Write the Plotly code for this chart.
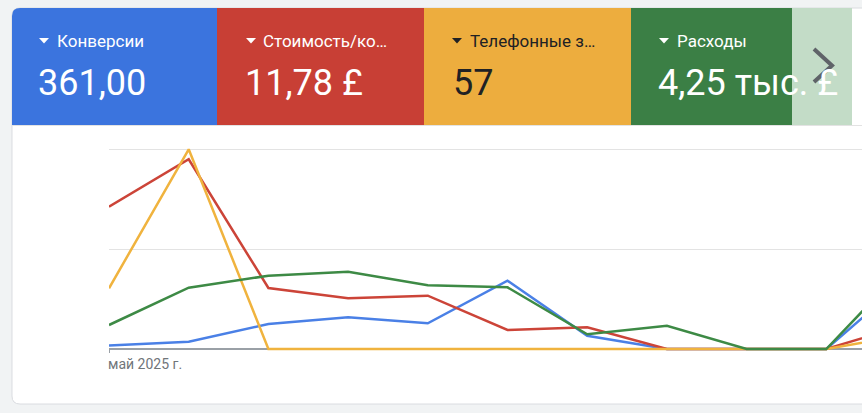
import plotly.graph_objects as go

# ---- data (normalised per-metric values, one gridline = 1 unit) ----
dates = ["2025-05-01", "2025-05-02", "2025-05-03", "2025-05-04", "2025-05-05",
         "2025-05-06", "2025-05-07", "2025-05-08", "2025-05-09", "2025-05-10",
         "2025-05-11"]
conversions = [0.034, 0.073, 0.25, 0.317, 0.257, 0.683, 0.133, 0, 0, 0, 0.69]
cost_per_conv = [1.423, 1.897, 0.61, 0.507, 0.533, 0.19, 0.217, 0, 0, 0, 0.24]
phone_calls = [0.607, 1.997, 0, 0, 0, 0, 0, 0, 0, 0, 0.14]
spend = [0.24, 0.613, 0.733, 0.773, 0.637, 0.617, 0.147, 0.233, 0, 0, 0.835]

tile_titles = ["Конверсии", "Стоимость/ко…", "Телефонные з…", "Расходы"]
tile_values = ["361,00", "11,78 £", "57", "4,25 тыс. £"]
x_label = "май 2025 г."

# ---- styling ----
W, H = 862, 413
L, T, B = 109, 135, 53
PW, PH = W - L, H - T - B

def px(X):
    return (X - L) / PW

def py(Y):
    return (T + PH - Y) / PH

def P(X, Y):
    return f"{px(X):.5f},{py(Y):.5f}"

def rrect(x0, y0, x1, y1, tl=0, tr=0, br=0, bl=0):
    s = f"M{P(x0 + tl, y0)} L{P(x1 - tr, y0)} "
    if tr: s += f"Q{P(x1, y0)} {P(x1, y0 + tr)} "
    s += f"L{P(x1, y1 - br)} "
    if br: s += f"Q{P(x1, y1)} {P(x1 - br, y1)} "
    s += f"L{P(x0 + bl, y1)} "
    if bl: s += f"Q{P(x0, y1)} {P(x0, y1 - bl)} "
    s += f"L{P(x0, y0 + tl)} "
    if tl: s += f"Q{P(x0, y0)} {P(x0 + tl, y0)} "
    return s + "Z"

line_colors = ["#4a80e6", "#cc4438", "#f0b33e", "#3d8a45"]
series = [conversions, cost_per_conv, phone_calls, spend]

fig = go.Figure()
for vals, col in zip(series, line_colors):
    fig.add_trace(go.Scatter(x=dates, y=vals, mode="lines",
                             line=dict(color=col, width=2.5),
                             hoverinfo="skip", showlegend=False))

shapes = []
# card
shapes.append(dict(type="path", xref="paper", yref="paper", layer="below",
                   path=rrect(12, 8, 890, 404, 8, 8, 8, 8),
                   fillcolor="white", line=dict(color="#dadce0", width=1)))
# tiles
tiles = [(12, 217, "#3b74de", 8), (217, 424, "#c83f35", 0),
         (424, 631, "#edad3e", 0), (631, 792, "#3b7f45", 0),
         (792, 852, "#c3dcc7", 0)]
for x0, x1, c, r in tiles:
    shapes.append(dict(type="path", xref="paper", yref="paper", layer="below",
                       path=rrect(x0, 8, x1, 125, tl=r),
                       fillcolor=c, line=dict(width=0)))
# divider below tiles
shapes.append(dict(type="line", xref="paper", yref="paper", layer="below",
                   x0=px(12), x1=px(862), y0=py(125.5), y1=py(125.5),
                   line=dict(color="#e3e3e3", width=1)))
# small triangles
tri_x = [39, 246, 452, 659]
text_cols = ["white", "white", "#202124", "white"]
for tx, tc in zip(tri_x, text_cols):
    shapes.append(dict(type="path", xref="paper", yref="paper", layer="above",
                       path=f"M{P(tx, 38)} L{P(tx + 10, 38)} L{P(tx + 5, 43.5)} Z",
                       fillcolor=tc, line=dict(width=0)))
# chevron
shapes.append(dict(type="path", xref="paper", yref="paper", layer="above",
                   path=f"M{P(814, 49)} L{P(832, 65.5)} L{P(814, 82)}",
                   line=dict(color="#5f6368", width=4)))
# tick at axis start
shapes.append(dict(type="line", xref="paper", yref="paper", layer="above",
                   x0=px(109.5), x1=px(109.5), y0=py(349), y1=py(353),
                   line=dict(color="#9aa0a6", width=1)))

annotations = []
title_x = [55, 261, 468, 675]
value_x = [36, 243, 451, 656]
for t, v, txx, vx, c in zip(tile_titles, tile_values, title_x, value_x, text_cols):
    annotations.append(dict(xref="paper", yref="paper", x=px(txx), y=py(41),
                            xanchor="left", yanchor="middle", showarrow=False,
                            text=t, font=dict(family="Roboto", size=17, color=c)))
    annotations.append(dict(xref="paper", yref="paper", x=px(vx), y=py(83),
                            xanchor="left", yanchor="middle", showarrow=False,
                            text=v, font=dict(family="Roboto", size=36, color=c)))
annotations.append(dict(xref="paper", yref="paper", x=px(106), y=py(364),
                        xanchor="left", yanchor="middle", showarrow=False,
                        text=x_label,
                        font=dict(family="Roboto", size=14, color="#70757a")))

fig.update_layout(
    width=W, height=H,
    margin=dict(l=L, r=0, t=T, b=B, pad=0),
    paper_bgcolor="#f1f3f4", plot_bgcolor="rgba(0,0,0,0)",
    shapes=shapes, annotations=annotations, showlegend=False,
    xaxis=dict(type="date", range=["2025-05-01", "2025-05-10 10:45"],
               showgrid=False, zeroline=False, showticklabels=False,
               ticks="", showline=False, fixedrange=True),
    yaxis=dict(range=[-0.11, 2.14], tickvals=[0, 1, 2], showticklabels=False,
               showgrid=True, gridcolor="#e3e3e3", gridwidth=1,
               zeroline=True, zerolinecolor="#9aa0a6", zerolinewidth=1.5,
               ticks="", fixedrange=True),
)

fig.write_html("out.html")
